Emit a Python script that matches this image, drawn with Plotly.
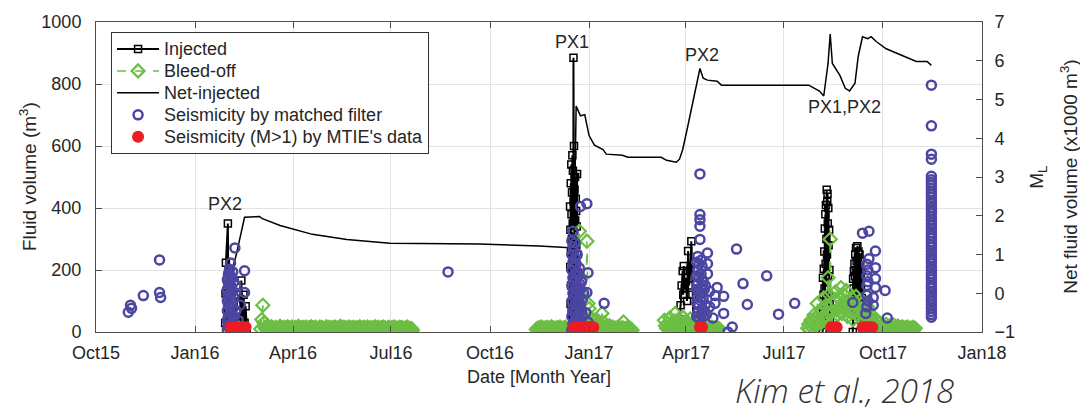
import pandas as pd
import plotly.graph_objects as go

# ---------------- axis ticks ----------------
tick_dates = ["2015-10-01", "2016-01-01", "2016-04-01", "2016-07-01", "2016-10-01",
              "2017-01-01", "2017-04-01", "2017-07-01", "2017-10-01", "2018-01-01"]
tick_labels = ["Oct15", "Jan16", "Apr16", "Jul16", "Oct16",
               "Jan17", "Apr17", "Jul17", "Oct17", "Jan18"]

# ---------------- injected volume (m^3) per stimulation ----------------
inj1_dates = ["2016-01-29 00:00", "2016-01-29 08:00", "2016-01-29 16:00", "2016-01-31 12:00",
              "2016-02-01 00:00", "2016-02-03", "2016-02-06", "2016-02-10", "2016-02-12 00:00",
              "2016-02-12 12:00", "2016-02-13", "2016-02-14", "2016-02-15", "2016-02-16",
              "2016-02-17", "2016-02-18"]
inj1_vol = [29, 124, 223, 350, 60, 40, 20, 120, 92, 40, 166, 50, 120, 30, 83, 10]

# 4-hourly records, PX1 stimulation Dec 2016
inj2_start, inj2_step = "2016-12-14 04:00", "4h"
inj2_vol = [0, 405, 210, 330, 90, 480, 260, 150, 540, 380, 60, 300, 450, 200, 570, 120,
            350, 520, 240, 30, 885, 420, 180, 600, 310, 80, 460, 270, 140, 500, 360, 50,
            230, 430, 110, 390, 280, 160, 340, 20, 510, 190, 250, 70, 130, 40, 0]

inj3_dates = ["2017-03-24", "2017-03-26", "2017-03-27", "2017-03-28", "2017-03-29 00:00",
              "2017-03-29 12:00", "2017-03-30", "2017-03-31", "2017-04-01", "2017-04-02",
              "2017-04-03", "2017-04-04", "2017-04-05", "2017-04-06", "2017-04-07",
              "2017-04-08", "2017-04-09"]
inj3_vol = [0, 40, 86, 150, 197, 120, 213, 140, 175, 100, 261, 150, 200, 293, 120, 30, 0]

# 6-hourly records, PX1 stimulation Aug 2017
inj4_start, inj4_step = "2017-08-06 00:00", "6h"
inj4_vol = [0, 175, 60, 120, 204, 30, 260, 140, 334, 90, 380, 220, 410, 160, 300, 459,
            250, 420, 446, 350, 180, 400, 280, 120, 330, 200, 90, 40, 0]

# 6-hourly records, PX2 stimulation Sep 2017
inj5_start, inj5_step = "2017-09-03 00:00", "6h"
inj5_vol = [0, 172, 80, 140, 197, 60, 220, 110, 180, 250, 90, 200, 271, 150, 230, 40,
            190, 277, 120, 240, 160, 260, 70, 210, 130, 250, 180, 100, 230, 191, 140, 60,
            200, 110, 50, 20, 0]

# ---------------- bleed-off volume (m^3), daily records ----------------
bleed1_start = "2016-03-02"
bleed1_vol = [10, 40, 86, 30, 14, 8, 16, 11, 6, 13, 17, 9, 12, 7, 15, 10, 5, 14, 18, 9,
              12, 6, 15, 11, 8, 17, 10, 13, 6, 16, 9, 12, 14, 7, 11, 18, 8, 13, 10, 15,
              6, 12, 16, 9, 11, 14, 7, 17, 10, 13, 8, 15, 12, 6, 11, 16, 9, 14, 10, 7,
              13, 17, 8, 12, 15, 6, 11, 14, 9, 16, 10, 13, 7, 12, 18, 8, 11, 15, 9, 14,
              6, 12, 16, 10, 13, 8, 15, 11, 7, 14, 12, 9, 17, 10, 13, 6, 15, 11, 8, 16,
              12, 9, 14, 7, 13, 10, 17, 8, 12, 15, 6, 11, 14, 9, 16, 10, 13, 7, 12, 15,
              8, 11, 14, 9, 16, 6, 13, 10, 12, 15, 8, 14, 11, 7, 13, 10, 16, 9, 12, 8,
              11, 6]

bleed2_start = "2016-11-13"
bleed2_vol = [8, 12, 6, 14, 10, 16, 7, 11, 13, 9, 15, 6, 12, 10, 17, 8, 13, 11, 7, 14,
              9, 12, 16, 6, 10, 13, 8, 15, 11, 7, 12, 14, 9,
              12, 18, 25, 15, 30, 22, 40, 325, 45, 30, 55, 35, 25, 40, 293, 92,
              76, 30, 45, 20, 35, 15, 25, 40, 18, 28, 12, 22, 60, 15, 30, 10, 18, 8, 14, 20,
              12, 9, 16, 11, 7, 13, 10, 15, 8, 12, 6, 14, 32, 10, 8, 13, 11, 7, 12, 9, 6]

bleed3_start = "2017-03-12"
bleed3_vol = [38, 20, 12, 28, 15, 45, 22, 10, 32, 18, 60, 25, 14, 40, 20, 30, 12, 48, 24, 16,
              35, 10, 28, 18, 42, 15, 22, 12, 30, 9, 18, 14, 25, 8, 16, 11, 20, 7, 13, 18,
              10, 15, 8, 12, 16, 9, 13, 7, 11, 14, 8, 10]

bleed4_start = "2017-07-23"
bleed4_vol = [12, 25, 8, 38, 15, 30, 55, 20, 45,
              92, 35, 60, 28, 75, 40, 110, 50, 85, 30, 175, 120, 299, 65, 90, 45, 100, 130,
              70, 55, 110, 80, 143, 60, 95, 120, 75, 134, 50, 85, 100,
              65, 110, 40, 90, 70, 115, 55, 80, 100, 45, 75, 60, 95, 40, 70, 55, 80, 35, 60,
              45, 30, 50, 25, 40, 20, 35, 15, 28, 12, 22,
              10, 18, 8, 25, 14, 6, 20, 12, 16, 9, 22, 11, 7, 15, 19, 10, 13, 6, 17, 12,
              9, 14, 8, 16, 11, 7, 13, 10, 15, 8, 12]

# ---------------- net-injected volume (x1000 m^3) ----------------
net_dates = ["2016-01-29", "2016-02-08", "2016-02-16", "2016-03-01", "2016-03-03", "2016-03-20",
             "2016-04-19", "2016-05-21", "2016-06-30", "2016-09-21", "2016-11-16", "2016-12-12",
             "2016-12-18", "2016-12-20", "2016-12-24", "2016-12-28", "2017-01-01", "2017-01-06",
             "2017-01-14", "2017-01-17", "2017-02-01", "2017-02-06", "2017-03-09", "2017-03-14",
             "2017-03-23", "2017-03-26", "2017-03-29", "2017-04-02", "2017-04-07", "2017-04-12",
             "2017-04-14", "2017-04-17", "2017-04-21", "2017-04-30", "2017-05-04", "2017-07-24",
             "2017-08-03", "2017-08-07", "2017-08-11", "2017-08-13", "2017-08-15", "2017-08-22",
             "2017-08-27", "2017-08-31", "2017-09-05", "2017-09-08", "2017-09-12", "2017-09-17",
             "2017-09-20", "2017-09-25", "2017-10-04", "2017-11-01", "2017-11-11", "2017-11-15"]
net_vol = [0.00, 0.96, 1.96, 1.98, 1.93, 1.75,
           1.52, 1.39, 1.29, 1.27, 1.22, 1.17,
           1.17, 4.83, 4.58, 4.61, 4.07, 3.82,
           3.71, 3.59, 3.56, 3.51, 3.51, 3.43,
           3.38, 3.46, 3.71, 4.22, 4.91, 5.60,
           5.80, 5.55, 5.50, 5.47, 5.37, 5.37,
           5.22, 5.09, 5.93, 6.69, 5.93, 5.62,
           5.29, 5.22, 5.42, 6.11, 6.62, 6.57,
           6.62, 6.49, 6.31, 5.98, 5.98, 5.88]

# ---------------- seismicity by matched filter (ML) ----------------
seis_2015 = {"2015-10-31": [-0.49], "2015-11-02": [-0.31], "2015-11-03": [-0.39],
             "2015-11-14": [-0.06], "2015-11-29": [0.02, 0.86], "2015-11-30": [-0.11]}
seis_2016_feb = {"2016-01-31": [-0.95, -0.7, -0.45, -0.2, 0.1, 0.35],
                 "2016-02-01": [-0.85, -0.6, -0.3, -0.05, 0.25, 0.5],
                 "2016-02-02": [-0.9, -0.65, -0.35, 0.0, 0.3, 0.62],
                 "2016-02-03": [-0.8, -0.5, -0.15, 0.2, 0.45, 0.78],
                 "2016-02-04": [-0.92, -0.55, -0.25, 0.15, 0.4],
                 "2016-02-05": [-0.75, -0.4, 0.05, 0.55],
                 "2016-02-06": [-0.6, -0.1, 0.3],
                 "2016-02-07": [1.17, -0.85],
                 "2016-02-08": [-0.45, 0.2],
                 "2016-02-10": [-0.7],
                 "2016-02-12": [-0.3],
                 "2016-02-16": [0.58, 0.02, -1.03]}
seis_2016_aug = {"2016-08-23": [0.55]}
seis_2016_dec = {"2016-12-16": [-0.95, -0.6, -0.2, 0.2, 0.6, 1.0, 1.35],
                 "2016-12-17": [-0.8, -0.4, 0.0, 0.4, 0.8, 1.2, 1.6],
                 "2016-12-18": [-0.9, -0.5, -0.1, 0.3, 0.7, 1.1],
                 "2016-12-19": [-1.0, -0.7, -0.3, 0.1, 0.5, 0.9, 1.3],
                 "2016-12-20": [-0.85, -0.45, -0.05, 0.35, 0.75],
                 "2016-12-21": [-0.95, -0.6, -0.2, 0.2, 0.55, 1.0],
                 "2016-12-22": [-0.75, -0.35, 0.05, 0.45],
                 "2016-12-23": [-0.9, -0.5, -0.1, 0.25, 0.65],
                 "2016-12-24": [2.24, -0.7, -0.3, 0.1],
                 "2016-12-25": [-0.85, -0.45, 0.3],
                 "2016-12-26": [-0.6, -0.15],
                 "2016-12-27": [-0.9, 0.0],
                 "2016-12-29": [-0.5],
                 "2016-12-30": [2.31, 0.02],
                 "2016-12-31": [0.53, -0.75],
                 "2017-01-15": [-0.26]}
seis_2017_apr = {"2017-04-11": [-0.6, -0.25, 0.1, 0.45, 0.8],
                 "2017-04-12": [-0.5, -0.1, 0.25, 0.6, 0.95],
                 "2017-04-13": [-0.65, -0.3, 0.05, 0.4, 0.75],
                 "2017-04-14": [3.08, 2.03, 1.90, 1.73, 1.39],
                 "2017-04-15": [-0.55, -0.2, 0.15, 0.5, 0.85],
                 "2017-04-16": [-0.4, 0.0, 0.35, 0.7],
                 "2017-04-17": [-0.6, -0.15, 0.3],
                 "2017-04-18": [-0.45, 0.1],
                 "2017-04-19": [-0.3, 0.2],
                 "2017-04-20": [-0.55],
                 "2017-04-21": [1.04, 0.76, 0.50],
                 "2017-04-23": [-0.35, 0.05],
                 "2017-04-26": [-0.64],
                 "2017-04-28": [-0.06, -0.26],
                 "2017-04-30": [0.15],
                 "2017-05-06": [-0.08, -0.52],
                 "2017-05-10": [-1.0],
                 "2017-05-14": [-0.87],
                 "2017-05-18": [1.14],
                 "2017-05-24": [0.25],
                 "2017-05-28": [-0.29],
                 "2017-06-15": [0.45],
                 "2017-06-26": [-0.54],
                 "2017-07-11": [-0.26]}
seis_2017_sep = {"2017-09-03": [-0.24],
                 "2017-09-12": [1.55],
                 "2017-09-15": [-0.52],
                 "2017-09-16": [0.75, 0.45, 0.2, -0.05, -0.35],
                 "2017-09-17": [0.6, 0.3, -0.2],
                 "2017-09-18": [1.6, 0.89],
                 "2017-09-22": [-0.11, -0.31],
                 "2017-09-24": [1.09, 0.66, 0.38, 0.15],
                 "2017-10-03": [0.07],
                 "2017-10-05": [-0.64]}
seis_2017_nov = {"2017-11-15": [5.37, 4.32, 3.59, 3.46, 3.02, 2.93, 2.86, 2.79, 2.71, 2.62,
                                2.55, 2.47, 2.38, 2.31, 2.22, 2.14, 2.07, 1.98, 1.9, 1.81,
                                1.74, 1.66, 1.57, 1.49, 1.42, 1.33, 1.25, 1.18, 1.09, 1.01,
                                0.92, 0.85, 0.77, 0.68, 0.6, 0.51, 0.44, 0.36, 0.27, 0.19,
                                0.12, 0.03, -0.05, -0.14, -0.22, -0.3, -0.39, -0.47, -0.55,
                                -0.62]}

# ---------------- seismicity (M>1) from MTIE, drawn along the base ----------------
mtie_dates = ["2016-02-03", "2016-02-05", "2016-02-08", "2016-02-11", "2016-02-14", "2016-02-17",
              "2016-12-18", "2016-12-20", "2016-12-22", "2016-12-24", "2016-12-26", "2016-12-28",
              "2016-12-30", "2017-01-01", "2017-01-03", "2017-01-05",
              "2017-04-14", "2017-04-16",
              "2017-08-14", "2017-08-16", "2017-08-19",
              "2017-09-12", "2017-09-14", "2017-09-16", "2017-09-18", "2017-09-21"]
mtie_level = [-0.88] * len(mtie_dates)

# ---------------- event labels ----------------
label_text = ["PX2", "PX1", "PX2", "PX1,PX2"]
label_dates = ["2016-01-29", "2016-12-16", "2017-04-16", "2017-08-26"]
label_vol = [414, 936, 895, 726]


def join_segments(segments):
    """Concatenate (dates, values) segments with gaps between them."""
    xs, ys = [], []
    for d, v in segments:
        if xs:
            xs.append(None)
            ys.append(None)
        xs.extend(list(d))
        ys.extend(list(v))
    return xs, ys


def regular(start, step, values):
    """Timestamps for records taken at a fixed interval."""
    stamps = pd.date_range(start, periods=len(values), freq=step)
    return stamps.strftime("%Y-%m-%d %H:%M").tolist(), values


def flatten(groups):
    xs, ys = [], []
    for g in groups:
        for d, vals in g.items():
            for v in vals:
                xs.append(d)
                ys.append(v)
    return xs, ys


inj_x, inj_y = join_segments([(inj1_dates, inj1_vol),
                              regular(inj2_start, inj2_step, inj2_vol),
                              (inj3_dates, inj3_vol),
                              regular(inj4_start, inj4_step, inj4_vol),
                              regular(inj5_start, inj5_step, inj5_vol)])
bleed_x, bleed_y = join_segments([regular(bleed1_start, "D", bleed1_vol),
                                  regular(bleed2_start, "D", bleed2_vol),
                                  regular(bleed3_start, "D", bleed3_vol),
                                  regular(bleed4_start, "D", bleed4_vol)])
seis_x, seis_y = flatten([seis_2015, seis_2016_feb, seis_2016_aug, seis_2016_dec,
                          seis_2017_apr, seis_2017_sep, seis_2017_nov])

FONT = "Liberation Sans, Arial, sans-serif"
TXT = "#262626"
AX = "#4d4d4d"
BLUE = "rgb(76,70,162)"
GREEN = "rgb(108,190,68)"
RED = "rgb(236,28,36)"


def legend_name(s):
    # legend rows are spaced by the (smaller) legend font; names are drawn larger
    return '<span style="font-size:18px">' + s.replace(">", "&gt;") + "</span>"


fig = go.Figure()

fig.add_trace(go.Scatter(
    x=inj_x, y=inj_y, name=legend_name("Injected"), mode="lines+markers", legendrank=1,
    line=dict(color="black", width=2),
    marker=dict(symbol="square-open", size=7, color="black", line=dict(width=1.5)),
    connectgaps=False))

fig.add_trace(go.Scatter(
    x=bleed_x, y=bleed_y, name=legend_name("Bleed-off"), mode="lines+markers", legendrank=2,
    line=dict(color=GREEN, width=1.5, dash="dash"),
    marker=dict(symbol="diamond-open", size=10, color=GREEN, line=dict(width=2.2)),
    connectgaps=False))

fig.add_trace(go.Scatter(
    x=net_dates, y=net_vol, name=legend_name("Net-injected"), mode="lines", legendrank=3,
    yaxis="y2", line=dict(color="black", width=1.5)))

fig.add_trace(go.Scatter(
    x=seis_x, y=seis_y, name=legend_name("Seismicity by matched filter"), mode="markers",
    legendrank=4, yaxis="y2",
    marker=dict(symbol="circle-open", size=9, color=BLUE, line=dict(width=2.5))))

fig.add_trace(go.Scatter(
    x=mtie_dates, y=mtie_level, name=legend_name("Seismicity (M>1) by MTIE's data"),
    mode="markers", legendrank=5, yaxis="y2",
    marker=dict(symbol="circle", size=12, color=RED, line=dict(width=0))))

axis_common = dict(showline=True, linecolor=AX, linewidth=1, ticks="inside", ticklen=6,
                   tickcolor=AX, tickfont=dict(family=FONT, size=18, color=TXT))

fig.update_layout(
    width=1080, height=408,
    margin=dict(l=96, r=98, t=18, b=76),
    paper_bgcolor="white", plot_bgcolor="white",
    font=dict(family=FONT, color=TXT),
    showlegend=True,
    legend=dict(x=0.017, y=0.968, xanchor="left", yanchor="top",
                bgcolor="white", bordercolor="#333333", borderwidth=1,
                font=dict(family=FONT, size=14.6, color=TXT),
                itemwidth=42, tracegroupgap=0),
    xaxis=dict(type="date", range=["2015-10-01", "2018-01-01"],
               tickmode="array", tickvals=tick_dates, ticktext=tick_labels,
               mirror="ticks", showgrid=True, gridcolor="#e3e3e3", zeroline=False,
               ticklabelstandoff=4, **axis_common),
    yaxis=dict(range=[0, 1000], dtick=200, mirror=True, showgrid=True, gridcolor="#e3e3e3",
               zeroline=False, ticklabelstandoff=10, **axis_common),
    yaxis2=dict(range=[-1, 7], dtick=1, overlaying="y", side="right", anchor="x",
                showgrid=False, zeroline=False, ticklabelstandoff=8, **axis_common),
)

for t, d, v in zip(label_text, label_dates, label_vol):
    fig.add_annotation(x=d, y=v, xref="x", yref="y", text=t, showarrow=False,
                       xanchor="center", yanchor="middle",
                       font=dict(family=FONT, size=18, color=TXT))

# axis titles and source note
fig.add_annotation(x=-0.0767, y=0.5, xref="paper", yref="paper", text="Fluid volume (m<sup>3</sup>)",
                   textangle=-90, showarrow=False, xanchor="center", yanchor="middle",
                   font=dict(family=FONT, size=19, color=TXT))
fig.add_annotation(x=1.063, y=0.5, xref="paper", yref="paper", text="M<sub>L</sub>",
                   textangle=-90, showarrow=False, xanchor="center", yanchor="middle",
                   font=dict(family=FONT, size=19, color=TXT))
fig.add_annotation(x=1.098, y=0.5, xref="paper", yref="paper",
                   text="Net fluid volume (x1000 m<sup>3</sup>)",
                   textangle=-90, showarrow=False, xanchor="center", yanchor="middle",
                   font=dict(family=FONT, size=19, color=TXT))
fig.add_annotation(x=0.5, y=-0.1465, xref="paper", yref="paper", text="Date [Month Year]",
                   showarrow=False, xanchor="center", yanchor="middle",
                   font=dict(family=FONT, size=18, color=TXT))
fig.add_annotation(x=0.845, y=-0.19, xref="paper", yref="paper", text="Kim et al., 2018",
                   showarrow=False, xanchor="center", yanchor="middle",
                   font=dict(family="Open Sans, sans-serif", size=33, color="#333333",
                             style="italic", weight=300))

fig.write_html("out.html")
